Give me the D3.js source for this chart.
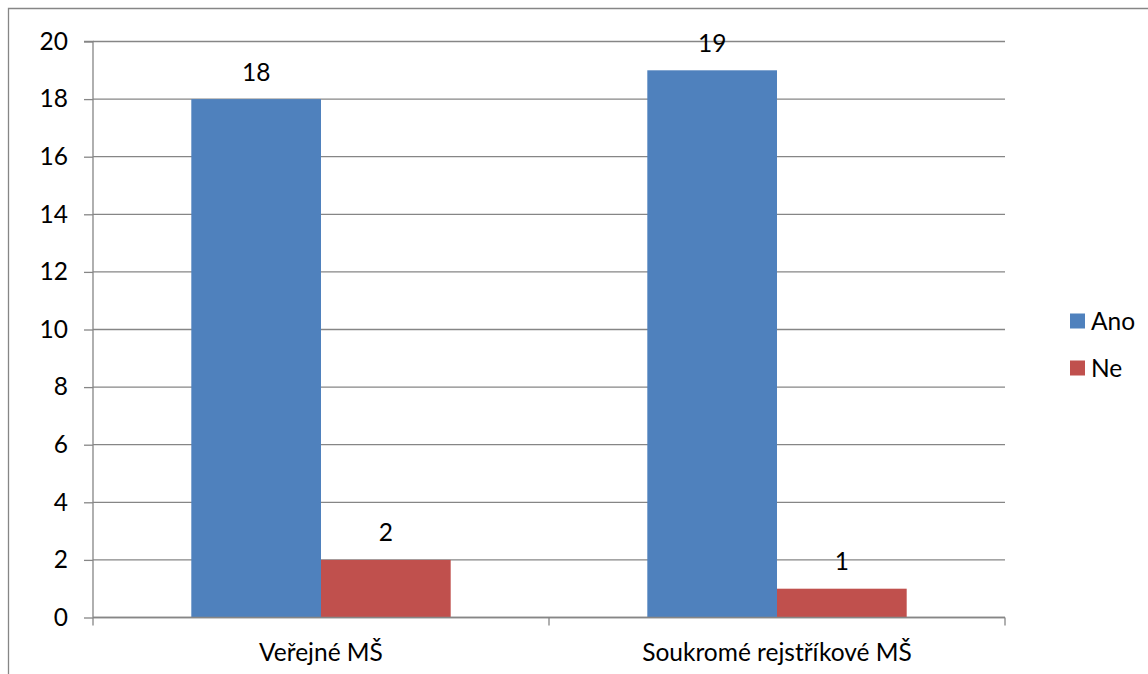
<!DOCTYPE html>
<html><head><meta charset="utf-8">
<script src="https://cdn.jsdelivr.net/npm/d3@7"></script>
<style>
html,body{margin:0;padding:0;background:#fff;}
text{font-family:Lato,"Open Sans",sans-serif;fill:#000;}
</style></head>
<body>
<svg id="c" width="1148" height="674"></svg>
<script>
const categories = ["Veřejné MŠ", "Soukromé rejstříkové MŠ"];
const seriesNames = ["Ano", "Ne"];
const ano = [18, 19];
const ne = [2, 1];
const yTicks = [0, 2, 4, 6, 8, 10, 12, 14, 16, 18, 20];
const colors = ["#4F81BD", "#C0504D"];

const seriesValues = [ano, ne];
const svg = d3.select("#c");
const fs = 24.5;
const gridColor = "#868686";

// outer frame (left & top)
svg.append("path").attr("d", "M8.5,674 V8.5 H1148").attr("fill", "none").attr("stroke", gridColor).attr("stroke-width", 1.3);

const x0 = d3.scaleBand().domain(categories).range([93, 1005]).paddingInner(0).paddingOuter(0);
const x1 = d3.scaleBand().domain(seriesNames).range([0, x0.bandwidth()]).paddingInner(0).paddingOuter(0.758);
const y = d3.scaleLinear().domain([0, 20]).range([617.5, 41.5]);

// gridlines
svg.append("g").selectAll("line").data(yTicks).join("line")
  .attr("x1", 93).attr("x2", 1005)
  .attr("y1", d => y(d)).attr("y2", d => y(d))
  .attr("stroke", gridColor).attr("stroke-width", 1.3);

// bars
const groups = svg.append("g").selectAll("g").data(categories).join("g")
  .attr("transform", c => `translate(${x0(c)},0)`);
groups.selectAll("rect").data((c, i) => seriesNames.map((s, j) => ({s, v: seriesValues[j][i], j})))
  .join("rect")
  .attr("x", d => x1(d.s)).attr("width", x1.bandwidth())
  .attr("y", d => y(d.v)).attr("height", d => y(0) - y(d.v))
  .attr("fill", d => colors[d.j]);
groups.selectAll("text").data((c, i) => seriesNames.map((s, j) => ({s, v: seriesValues[j][i], j})))
  .join("text")
  .attr("x", d => x1(d.s) + x1.bandwidth() / 2)
  .attr("y", d => y(d.v) - 27).attr("dy", "0.35em")
  .attr("text-anchor", "middle").attr("font-size", fs)
  .text(d => d.v);

// y axis
const yAxis = d3.axisLeft(y).tickValues(yTicks).tickSize(9).tickPadding(16);
const ya = svg.append("g").attr("transform", "translate(93,0)").call(yAxis);
ya.select(".domain").attr("stroke", gridColor).attr("stroke-width", 1.3).attr("d", `M-9,${y(20)}H0V${y(0)}`);
ya.selectAll(".tick line").attr("stroke", gridColor).attr("stroke-width", 1.3);
ya.selectAll(".tick text").attr("font-size", fs).attr("font-family", "Lato").attr("fill", "#000");

// x axis
const xa = svg.append("g").attr("transform", `translate(0,${y(0)})`);
xa.append("line").attr("x1", 93).attr("x2", 1005).attr("stroke", gridColor).attr("stroke-width", 1.3);
const bounds = [93].concat(categories.map(c => x0(c) + x0.bandwidth()));
xa.selectAll("line.t").data(bounds).join("line").attr("class", "t")
  .attr("x1", d => d).attr("x2", d => d).attr("y1", 0).attr("y2", 8)
  .attr("stroke", gridColor).attr("stroke-width", 1.3);
xa.selectAll("text").data(categories).join("text")
  .attr("x", c => x0(c) + x0.bandwidth() / 2).attr("y", 35).attr("dy", "0.35em")
  .attr("text-anchor", "middle").attr("font-size", fs).text(c => c);

// legend
const leg = svg.append("g").selectAll("g").data(seriesNames).join("g")
  .attr("transform", (d, i) => `translate(1070,${321 + i * 47})`);
leg.append("rect").attr("x", 0).attr("y", -7.5).attr("width", 15).attr("height", 15).attr("fill", (d, i) => colors[i]);
leg.append("text").attr("x", 21).attr("y", 0).attr("dy", "0.35em").attr("font-size", fs).text(d => d);
</script>
</body></html>
